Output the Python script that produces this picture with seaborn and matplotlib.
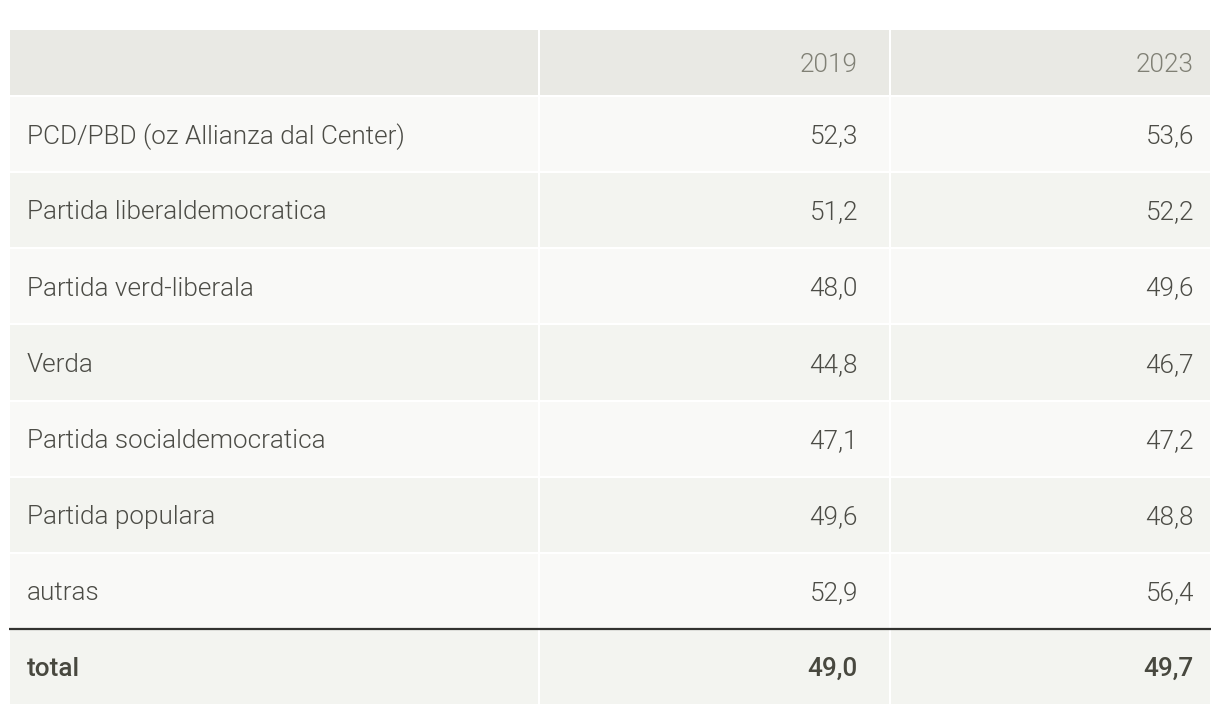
import numpy as np
import matplotlib
matplotlib.use("Agg")
import matplotlib.pyplot as plt
import seaborn as sns
from matplotlib.colors import ListedColormap

# data
parties = ["PCD/PBD (oz Allianza dal Center)", "Partida liberaldemocratica",
           "Partida verd-liberala", "Verda", "Partida socialdemocratica",
           "Partida populara", "autras", "total"]
years = ["2019", "2023"]
v2019 = ["52,3", "51,2", "48,0", "44,8", "47,1", "49,6", "52,9", "49,0"]
v2023 = ["53,6", "52,2", "49,6", "46,7", "47,2", "48,8", "56,4", "49,7"]

sns.set_theme(style="white")
plt.rcParams["font.family"] = ["Roboto", "DejaVu Sans"]

W, H = 1220, 714
fig = plt.figure(figsize=(W / 100, H / 100), dpi=100)
fig.patch.set_facecolor("white")

cmap = ListedColormap(["#e9e9e4", "#f9f9f7", "#f3f4f0"])
body_shade = np.array([1 if i % 2 == 0 else 2 for i in range(len(parties))]).reshape(-1, 1)
head_shade = np.array([[0]])

cols = [(9, 539), (539, 890), (890, 1211)]
pads = [18, 32, 17]
headers = ["", years[0], years[1]]
bodies = [parties, v2019, v2023]
n = len(parties)
lw = 1.44  # 2 px white gaps
fs = 18.8


def add_cell_axes(x0, x1, y0, y1):
    return fig.add_axes([x0 / W, 1 - y1 / H, (x1 - x0) / W, (y1 - y0) / H])


for ci, (x0, x1) in enumerate(cols):
    pad = pads[ci] / (x1 - x0)
    ha = "left" if ci == 0 else "right"
    tx = pad if ci == 0 else 1 - pad

    # header row
    hax = add_cell_axes(x0, x1, 29, 96)
    sns.heatmap(head_shade, ax=hax, cmap=cmap, vmin=-0.5, vmax=2.5, cbar=False,
                linewidths=lw, linecolor="white", xticklabels=False, yticklabels=False)
    hax.set_xlim(0, 1)
    hax.text(tx, 0.53, headers[ci], ha=ha, va="center", fontsize=fs,
             color="#808075", fontweight=300)

    # body rows
    bax = add_cell_axes(x0, x1, 96, 705)
    sns.heatmap(body_shade, ax=bax, cmap=cmap, vmin=-0.5, vmax=2.5, cbar=False,
                linewidths=lw, linecolor="white", xticklabels=False, yticklabels=False)
    bax.set_xlim(0, 1)
    for ri, t in enumerate(bodies[ci]):
        last = ri == n - 1
        bax.text(tx, ri + 0.53, t, ha=ha, va="center", fontsize=fs,
                 color="#48483f" if last else "#4c4c46",
                 fontweight=500 if last else 300)
    # dark line above total
    bax.axhline(n - 1, color="#333330", lw=1.6)

fig.savefig("out.png", dpi=100, facecolor="white")
